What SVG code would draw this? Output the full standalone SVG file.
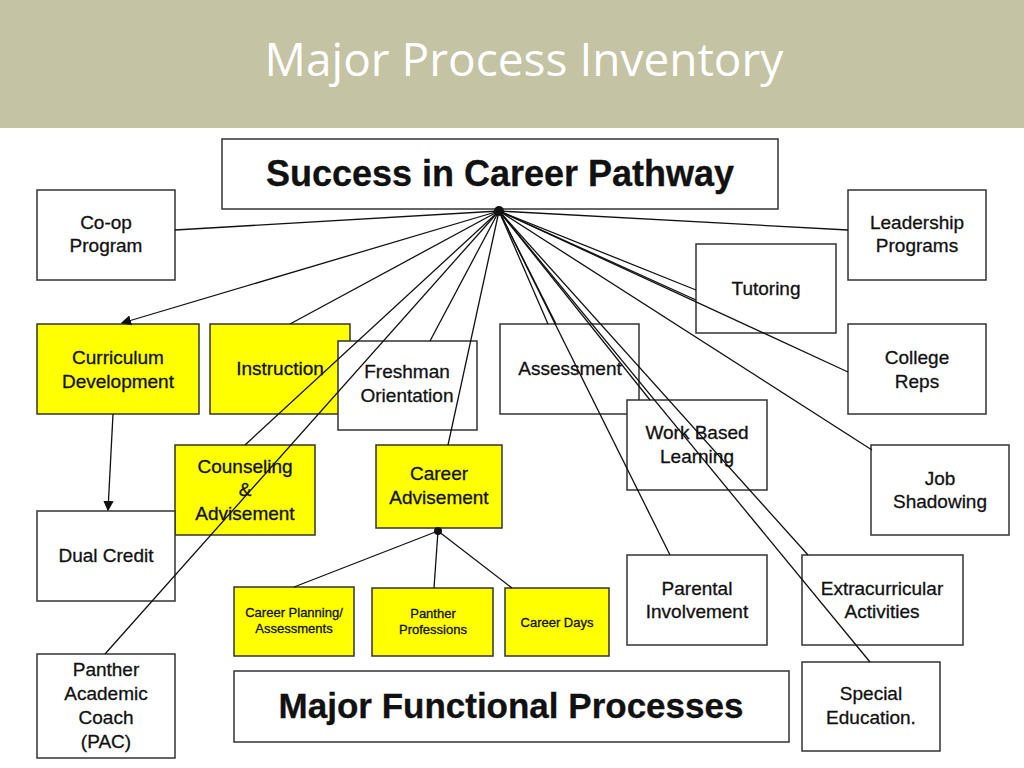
<svg xmlns="http://www.w3.org/2000/svg" width="1024" height="768" viewBox="0 0 1024 768">
<style>
.b{fill:#fff;stroke:#333;stroke-width:1.5}
.y{fill:#ffff00;stroke:#333;stroke-width:1.5}
text{font-family:"Liberation Sans",Arial,sans-serif;fill:#111;text-anchor:middle;font-size:19px;stroke:#111;stroke-width:0.3}
.s{font-size:13px}
.c line{stroke:#111;stroke-width:1.3}
</style>
<defs><marker id="a" markerWidth="8" markerHeight="8" refX="7" refY="4" orient="auto"><path d="M0,0L8,4L0,8z" fill="#111"/></marker></defs>
<rect width="1024" height="768" fill="#fff"/>
<rect width="1024" height="128" fill="#c4c3a4"/>
<text x="524" y="76" style="font-size:46px;fill:#fff;stroke:none;font-family:'Open Sans','Liberation Sans',sans-serif">Major Process Inventory</text>
<g id="title"><rect class="b" x="222" y="139" width="556" height="70"/><text x="500" y="186" style="font-size:36px;font-weight:bold">Success in Career Pathway</text></g>
<g id="coop"><rect class="b" x="37" y="190" width="138" height="90"/><text x="106" y="229">Co-op</text><text x="106" y="252">Program</text></g>
<g id="lead"><rect class="b" x="848" y="190" width="138" height="90"/><text x="917" y="229">Leadership</text><text x="917" y="252">Programs</text></g>
<g id="tut"><rect class="b" x="696" y="244" width="140" height="89"/><text x="766" y="295">Tutoring</text></g>
<g id="college"><rect class="b" x="848" y="324" width="138" height="90"/><text x="917" y="364">College</text><text x="917" y="388">Reps</text></g>
<g id="curr"><rect class="y" x="37" y="324" width="162" height="90"/><text x="118" y="364">Curriculum</text><text x="118" y="388">Development</text></g>
<g id="instr"><rect class="y" x="210" y="324" width="140" height="90"/><text x="280" y="375">Instruction</text></g>
<g id="fresh"><rect class="b" x="338" y="341" width="139" height="89"/><text x="407" y="378">Freshman</text><text x="407" y="402">Orientation</text></g>
<g id="assess"><rect class="b" x="500" y="324" width="139" height="90"/><text x="570" y="375">Assessment</text></g>
<g id="wbl"><rect class="b" x="627" y="400" width="140" height="90"/><text x="697" y="439">Work Based</text><text x="697" y="463">Learning</text></g>
<g id="job"><rect class="b" x="871" y="445" width="138" height="90"/><text x="940" y="485">Job</text><text x="940" y="508">Shadowing</text></g>
<g id="couns"><rect class="y" x="175" y="445" width="140" height="90"/><text x="245" y="473">Counseling</text><text x="245" y="496">&amp;</text><text x="245" y="520">Advisement</text></g>
<g id="career"><rect class="y" x="376" y="445" width="126" height="83"/><text x="439" y="480">Career</text><text x="439" y="504">Advisement</text></g>
<g id="dual"><rect class="b" x="37" y="511" width="138" height="90"/><text x="106" y="562">Dual Credit</text></g>
<g id="plan"><rect class="y" x="234" y="587" width="120" height="69"/><text class="s" x="294" y="617">Career Planning/</text><text class="s" x="294" y="633">Assessments</text></g>
<g id="prof"><rect class="y" x="372" y="588" width="121" height="68"/><text class="s" x="433" y="618">Panther</text><text class="s" x="433" y="634">Professions</text></g>
<g id="days"><rect class="y" x="505" y="588" width="104" height="68"/><text class="s" x="557" y="627">Career Days</text></g>
<g id="par"><rect class="b" x="627" y="555" width="140" height="90"/><text x="697" y="595">Parental</text><text x="697" y="618">Involvement</text></g>
<g id="extra"><rect class="b" x="802" y="555" width="161" height="90"/><text x="882" y="595">Extracurricular</text><text x="882" y="618">Activities</text></g>
<g id="sped"><rect class="b" x="802" y="662" width="138" height="89"/><text x="871" y="700">Special</text><text x="871" y="724">Education.</text></g>
<g id="mfp"><rect class="b" x="234" y="671" width="555" height="71"/><text x="511" y="718" style="font-size:35px;font-weight:bold">Major Functional Processes</text></g>
<g id="pac"><rect class="b" x="37" y="654" width="138" height="104"/><text x="106" y="676">Panther</text><text x="106" y="700">Academic</text><text x="106" y="724">Coach</text><text x="106" y="748">(PAC)</text></g>
<g class="c" id="connectors">
<line x1="499" y1="211" x2="175" y2="230"/>
<line x1="499" y1="211" x2="848" y2="230"/>
<line x1="499" y1="211" x2="122" y2="323" marker-end="url(#a)"/>
<line x1="499" y1="211" x2="290" y2="324"/>
<line x1="499" y1="211" x2="245" y2="445"/>
<line x1="499" y1="211" x2="105" y2="654"/>
<line x1="499" y1="211" x2="430" y2="341"/>
<line x1="499" y1="211" x2="448" y2="445"/>
<line x1="499" y1="211" x2="548" y2="324"/>
<line x1="499" y1="211" x2="556" y2="324"/>
<line x1="499" y1="211" x2="670" y2="555"/>
<line x1="499" y1="211" x2="808" y2="555"/>
<line x1="499" y1="211" x2="870" y2="662"/>
<line x1="499" y1="211" x2="650" y2="400"/>
<line x1="499" y1="211" x2="696" y2="290"/>
<line x1="499" y1="211" x2="696" y2="300"/>
<line x1="499" y1="211" x2="848" y2="372"/>
<line x1="499" y1="211" x2="872" y2="450"/>
<line x1="113" y1="414" x2="108" y2="510" marker-end="url(#a)"/>
<line x1="438" y1="531" x2="294" y2="587"/>
<line x1="438" y1="531" x2="434" y2="588"/>
<line x1="438" y1="531" x2="512" y2="588"/>
<circle cx="499" cy="211" r="5" fill="#111"/>
<circle cx="438" cy="531" r="4" fill="#111"/>
</g>
</svg>
